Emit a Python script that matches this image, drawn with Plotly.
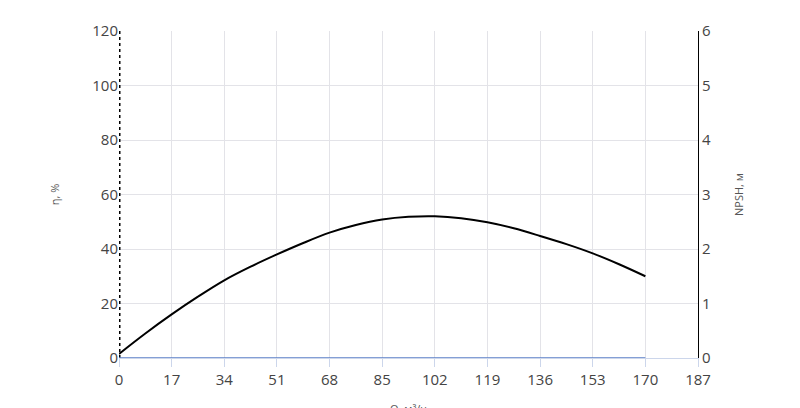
import plotly.graph_objects as go

q = [0, 8.5, 17, 25.5, 34, 42.5, 51, 59.5, 68, 76.5, 85, 93.5, 102, 110.5, 119, 127.5, 136, 144.5, 153, 161.5, 170]
eta = [1.5, 9, 16, 22.5, 28.5, 33.5, 38, 42.2, 46, 48.8, 50.8, 51.8, 52, 51.3, 49.8, 47.6, 44.8, 41.8, 38.4, 34.4, 30]
npsh_q = [0, 170]
npsh = [0, 0]
xticks = [0, 17, 34, 51, 68, 85, 102, 119, 136, 153, 170, 187]

fig = go.Figure()
fig.add_trace(go.Scatter(x=[0, 0], y=[0, 120], mode="lines", line=dict(color="black", width=3, dash="dot"), hoverinfo="skip"))
fig.add_trace(go.Scatter(x=q, y=eta, mode="lines", line=dict(color="black", width=2, shape="spline")))
fig.add_trace(go.Scatter(x=npsh_q, y=npsh, mode="lines", yaxis="y2", line=dict(color="#5b7fc7", width=1.5)))

font = dict(family="Open Sans", size=15, color="#444")
fig.update_layout(
    width=800, height=408, showlegend=False,
    plot_bgcolor="white", paper_bgcolor="white",
    margin=dict(l=111, r=110, t=23, b=58),
    font=font,
    xaxis=dict(range=[0, 187], tickvals=xticks, gridcolor="#e3e3e8", zeroline=False, automargin=False,
               ticks="outside", ticklen=8, tickcolor="#ccd6eb", showline=True, linecolor="#ccd6eb",
               title=dict(text="Q, м³/ч", font=dict(size=11, color="#555"), standoff=18)),
    yaxis=dict(range=[0, 120], dtick=20, gridcolor="#e3e3e8", zeroline=False, automargin=False,
               title=dict(text="η, %", font=dict(size=11, color="#555"), standoff=30)),
    yaxis2=dict(range=[0, 6], dtick=1, overlaying="y", side="right", showgrid=False, zeroline=False,
                automargin=False, showline=True, linecolor="black", linewidth=1,
                title=dict(text="NPSH, м", font=dict(size=11, color="#555"), standoff=25)),
)
fig.write_html("out.html")
